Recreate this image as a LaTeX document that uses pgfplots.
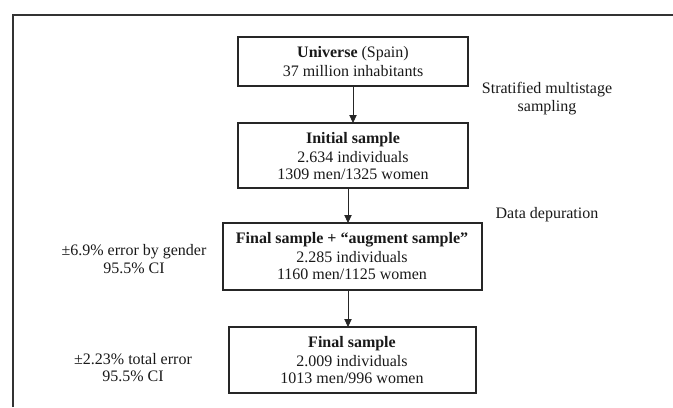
\documentclass[border=0pt]{standalone}
\usepackage{pgfplots}
\pgfplotsset{compat=1.18}
\usepackage{fontspec}
\setmainfont{Liberation Serif}
\usetikzlibrary{arrows.meta}
\begin{document}
\begin{tikzpicture}
\begin{axis}[
  scale only axis, width=504.75pt, height=305.25pt,
  xmin=0, xmax=673, ymin=0, ymax=407, y dir=reverse,
  hide axis, clip=false,
]
\tikzset{
  bx/.style={draw=black!85, line width=1.1pt},
  tx/.style={font=\fontsize{12}{14}\selectfont, text=black!90, align=center, anchor=center, inner sep=0pt},
  ar/.style={draw=black!85, line width=0.6pt, -{Triangle[length=6pt,width=5.5pt]}},
}
\path[use as bounding box] (axis cs:0,0) rectangle (axis cs:673,407);
% frame
\draw[black!80, line width=1.5pt] (axis cs:13,407) -- (axis cs:13,15) -- (axis cs:673,15);
% boxes
\draw[bx] (axis cs:238,37) rectangle (axis cs:468,86);
\draw[bx] (axis cs:238,123) rectangle (axis cs:468,188);
\draw[bx] (axis cs:223,223) rectangle (axis cs:482,290);
\draw[bx] (axis cs:229,327) rectangle (axis cs:476,393);
% arrows
\draw[ar] (axis cs:353,86) -- (axis cs:353,123);
\draw[ar] (axis cs:348,188) -- (axis cs:348,223);
\draw[ar] (axis cs:348,290) -- (axis cs:348,327);
% box texts
\node[tx] at (axis cs:353,54) {\textbf{Universe} (Spain)};
\node[tx] at (axis cs:353,71) {37 million inhabitants};
\node[tx] at (axis cs:353,140) {\textbf{Initial sample}};
\node[tx] at (axis cs:353,157) {2.634 individuals};
\node[tx] at (axis cs:353,174) {1309 men/1325 women};
\node[tx] at (axis cs:352,240) {\textbf{Final sample + “augment sample”}};
\node[tx] at (axis cs:352,257) {2.285 individuals};
\node[tx] at (axis cs:352,274) {1160 men/1125 women};
\node[tx] at (axis cs:352,344) {\textbf{Final sample}};
\node[tx] at (axis cs:352,361) {2.009 individuals};
\node[tx] at (axis cs:352,378) {1013 men/996 women};
% side texts
\node[tx] at (axis cs:547,90) {Stratified multistage};
\node[tx] at (axis cs:547,108) {sampling};
\node[tx] at (axis cs:547,215) {Data depuration};
\node[tx] at (axis cs:134,252) {±6.9\% error by gender};
\node[tx] at (axis cs:134,268) {95.5\% CI};
\node[tx] at (axis cs:133,359) {±2.23\% total error};
\node[tx] at (axis cs:133,376) {95.5\% CI};
\end{axis}
\end{tikzpicture}
\end{document}
